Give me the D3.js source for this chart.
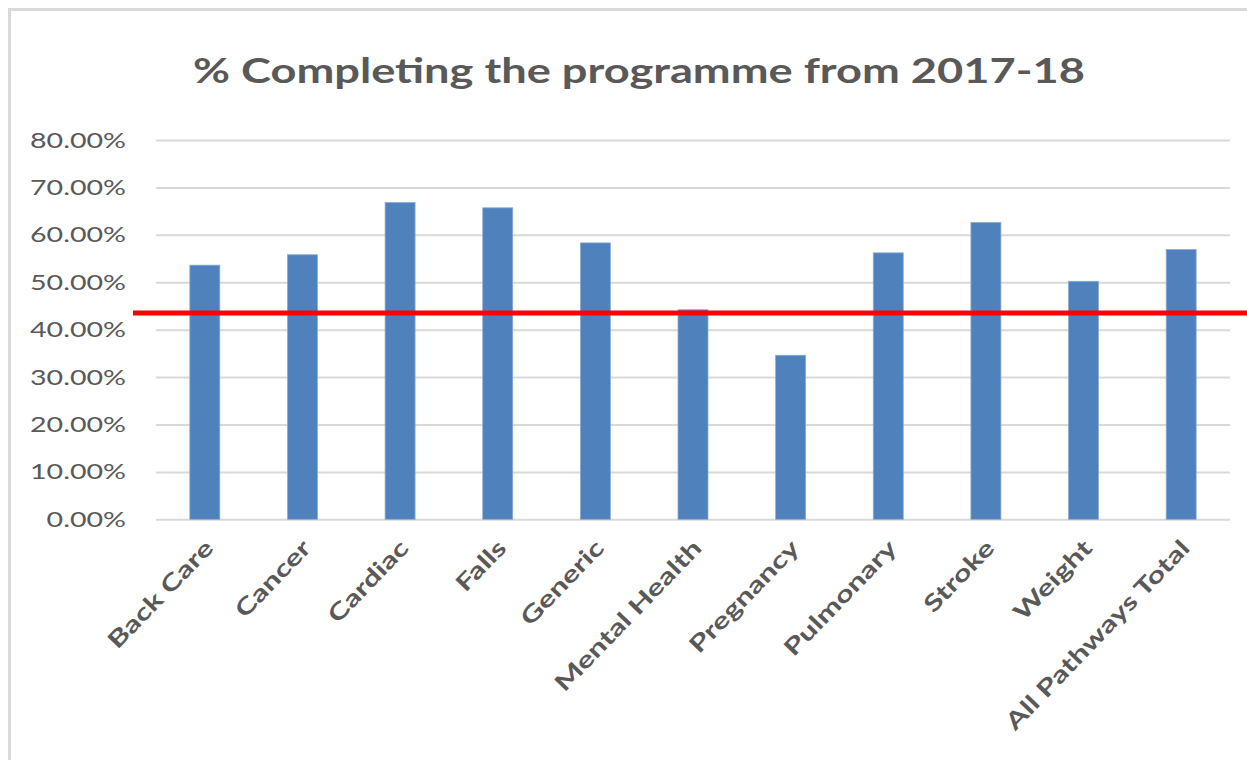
<!DOCTYPE html>
<html>
<head>
<meta charset="utf-8">
<script src="https://cdn.jsdelivr.net/npm/d3@7"></script>
<style>
  html, body { margin: 0; padding: 0; background: #fff; }
  svg { display: block; }
</style>
</head>
<body>
<svg id="chart" width="1247" height="760"></svg>
<script>
// Completion rates by pathway, 2017-18
const categories = ["Back Care", "Cancer", "Cardiac", "Falls", "Generic", "Mental Health",
  "Pregnancy", "Pulmonary", "Stroke", "Weight", "All Pathways Total"];
const completionRates = [0.536, 0.558, 0.668, 0.657, 0.583, 0.442, 0.346, 0.562, 0.626, 0.502, 0.569];
const targetRate = 0.435;
const yTicks = [0, 0.1, 0.2, 0.3, 0.4, 0.5, 0.6, 0.7, 0.8];
const titleText = "% Completing the programme from 2017-18";

const svg = d3.select("#chart");
const textColor = "#595959";
const gridColor = "#d9d9d9";
const fontStack = "Lato, 'Open Sans', sans-serif";

// chart frame
svg.append("rect")
  .attr("x", 9.5).attr("y", 9.5)
  .attr("width", 1300).attr("height", 800)
  .attr("fill", "#fff")
  .attr("stroke", gridColor).attr("stroke-width", 3);

const plot = { left: 156, right: 1230, top: 140, bottom: 519.3 };

const x = d3.scaleBand()
  .domain(categories)
  .range([plot.left, plot.right])
  .paddingInner(0.693)
  .paddingOuter(0.3465);

const y = d3.scaleLinear()
  .domain([0, 0.8])
  .range([plot.bottom, plot.top]);

// labels are set in a wide face: stretch each run by a factor
function stretch(sel, factor) {
  sel.each(function () {
    const w = this.getComputedTextLength();
    d3.select(this)
      .attr("textLength", w * factor)
      .attr("lengthAdjust", "spacingAndGlyphs");
  });
}

// title
svg.append("text")
  .attr("x", 639).attr("y", 83)
  .attr("text-anchor", "middle")
  .attr("font-family", fontStack)
  .attr("font-weight", "bold")
  .attr("font-size", 35)
  .attr("fill", textColor)
  .attr("textLength", 892)
  .attr("lengthAdjust", "spacingAndGlyphs")
  .text(titleText);

// gridlines and y labels
const yAxis = d3.axisLeft(y)
  .tickValues(yTicks)
  .tickSize(-(plot.right - plot.left))
  .tickPadding(30)
  .tickFormat(d => (d * 100).toFixed(2) + "%");

const gy = svg.append("g")
  .attr("transform", `translate(${plot.left},0)`)
  .call(yAxis);
gy.select(".domain").remove();
gy.selectAll(".tick line")
  .attr("stroke", gridColor)
  .attr("stroke-width", 2);
gy.selectAll(".tick text")
  .attr("fill", textColor)
  .attr("font-family", fontStack)
  .attr("font-size", 22)
  .call(stretch, 1.3);

// bars
svg.append("g")
  .selectAll("rect")
  .data(categories.map((c, i) => ({ c, v: completionRates[i] })))
  .join("rect")
  .attr("x", d => x(d.c))
  .attr("y", d => y(d.v))
  .attr("width", x.bandwidth())
  .attr("height", d => y(0) - y(d.v))
  .attr("fill", "#4f81bd")
  .attr("stroke", "#8aaad4")
  .attr("stroke-width", 0.8);

// category labels
const xAxis = d3.axisBottom(x).tickSize(0).tickPadding(0);
const gx = svg.append("g")
  .attr("transform", `translate(0,${plot.bottom})`)
  .call(xAxis);
gx.select(".domain").remove();
gx.selectAll(".tick text")
  .attr("fill", textColor)
  .attr("font-family", fontStack)
  .attr("font-weight", "bold")
  .attr("font-size", 23)
  .attr("text-anchor", "end")
  .attr("dy", null)
  .attr("transform", "translate(10,30) rotate(-46)")
  .call(stretch, 1.36);

// target line
svg.append("line")
  .attr("x1", 133).attr("x2", 1247)
  .attr("y1", y(targetRate)).attr("y2", y(targetRate))
  .attr("stroke", "#ff0000")
  .attr("stroke-width", 5);
</script>
</body>
</html>
